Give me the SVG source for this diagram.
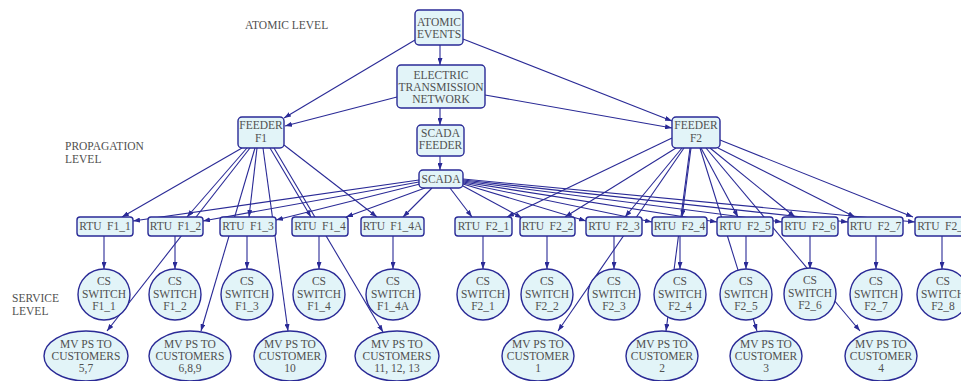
<svg xmlns="http://www.w3.org/2000/svg" width="961" height="381" viewBox="0 0 961 381">
<defs>
<marker id="ah" markerWidth="7" markerHeight="5" refX="7" refY="2.5" orient="auto" markerUnits="userSpaceOnUse">
<path d="M0,0 L7,2.5 L0,5 z" fill="#2a2a96"/>
</marker>
</defs>
<style>
.e line{stroke:#2a2a96;stroke-width:1.1;fill:none;marker-end:url(#ah)}
.n rect,.n ellipse{fill:#e2f4f8;stroke:#2a2a96;stroke-width:1.4}
text{font-family:"Liberation Serif","Times New Roman",serif;font-size:11.5px;fill:#505050;text-anchor:middle}
.lbl{text-anchor:start}
.rtu text{word-spacing:2.5px}
</style>
<rect width="961" height="381" fill="#ffffff"/>
<g id="labels">
<text class="lbl" x="245" y="29">ATOMIC LEVEL</text>
<text class="lbl" x="65" y="150">PROPAGATION</text>
<text class="lbl" x="65" y="163">LEVEL</text>
<text class="lbl" x="12" y="302">SERVICE</text>
<text class="lbl" x="12" y="315">LEVEL</text>
</g>
<g id="edges" class="e">
<line x1="440" y1="45" x2="440" y2="65"/>
<line x1="415" y1="40" x2="284" y2="118"/>
<line x1="397" y1="97" x2="285" y2="126"/>
<line x1="463" y1="39" x2="672" y2="121"/>
<line x1="485" y1="95" x2="672" y2="128"/>
<line x1="440" y1="108" x2="440" y2="125"/>
<line x1="440" y1="156" x2="440" y2="170"/>
<line x1="419" y1="180" x2="133" y2="221"/>
<line x1="419" y1="182" x2="203" y2="221"/>
<line x1="420" y1="184" x2="276" y2="220"/>
<line x1="425" y1="188" x2="346" y2="217"/>
<line x1="432" y1="188" x2="403" y2="217"/>
<line x1="450" y1="188" x2="472" y2="217"/>
<line x1="463" y1="186" x2="522" y2="218"/>
<line x1="463" y1="184" x2="586" y2="221"/>
<line x1="463" y1="183" x2="652" y2="222"/>
<line x1="463" y1="182" x2="717" y2="222"/>
<line x1="463" y1="181" x2="782" y2="222"/>
<line x1="463" y1="180" x2="848" y2="222"/>
<line x1="463" y1="179" x2="915" y2="222"/>
<line x1="242" y1="148" x2="122" y2="217"/>
<line x1="247" y1="148" x2="187" y2="217"/>
<line x1="250" y1="148" x2="107" y2="331"/>
<line x1="257" y1="148" x2="249" y2="217"/>
<line x1="255" y1="148" x2="201" y2="331"/>
<line x1="263" y1="148" x2="288" y2="331"/>
<line x1="270" y1="148" x2="311" y2="217"/>
<line x1="274" y1="148" x2="383" y2="332"/>
<line x1="284" y1="145" x2="377" y2="217"/>
<line x1="672" y1="138" x2="507" y2="217"/>
<line x1="676" y1="148" x2="565" y2="217"/>
<line x1="682" y1="148" x2="625" y2="217"/>
<line x1="684" y1="148" x2="558" y2="331"/>
<line x1="691" y1="148" x2="682" y2="217"/>
<line x1="690" y1="148" x2="666" y2="331"/>
<line x1="701" y1="148" x2="738" y2="217"/>
<line x1="700" y1="148" x2="757" y2="331"/>
<line x1="706" y1="148" x2="860" y2="331"/>
<line x1="710" y1="148" x2="795" y2="217"/>
<line x1="718" y1="148" x2="855" y2="217"/>
<line x1="720" y1="140" x2="913" y2="217"/>
<line x1="104" y1="236" x2="104" y2="269"/>
<line x1="175" y1="236" x2="175" y2="269"/>
<line x1="247" y1="236" x2="247" y2="269"/>
<line x1="319" y1="236" x2="319" y2="269"/>
<line x1="393" y1="236" x2="393" y2="269"/>
<line x1="483" y1="236" x2="483" y2="269"/>
<line x1="547" y1="236" x2="547" y2="269"/>
<line x1="614" y1="236" x2="614" y2="269"/>
<line x1="680" y1="236" x2="680" y2="269"/>
<line x1="746" y1="236" x2="746" y2="269"/>
<line x1="810" y1="236" x2="810" y2="269"/>
<line x1="876" y1="236" x2="876" y2="269"/>
<line x1="942" y1="236" x2="942" y2="269"/>
</g>
<g id="atomic_events" class="n"><rect x="415" y="10" width="48" height="35" rx="4"/><text x="439" y="26">ATOMIC</text><text x="439" y="38">EVENTS</text></g>
<g id="etn" class="n"><rect x="397" y="65" width="88" height="43" rx="4"/><text x="441" y="79">ELECTRIC</text><text x="441" y="91">TRANSMISSION</text><text x="441" y="103">NETWORK</text></g>
<g id="feeder_f1" class="n"><rect x="238" y="117" width="46" height="31" rx="4"/><text x="261" y="129">FEEDER</text><text x="261" y="142">F1</text></g>
<g id="scada_feeder" class="n"><rect x="417" y="125" width="47" height="31" rx="4"/><text x="440.5" y="137">SCADA</text><text x="440.5" y="149">FEEDER</text></g>
<g id="scada" class="n"><rect x="419" y="170" width="44" height="18" rx="4"/><text x="441" y="183">SCADA</text></g>
<g id="feeder_f2" class="n"><rect x="672" y="117" width="48" height="31" rx="4"/><text x="696" y="129">FEEDER</text><text x="696" y="142">F2</text></g>
<g id="rtu_f1_1" class="n rtu"><rect x="77" y="217" width="56" height="19" rx="3"/><text x="105" y="230">RTU F1_1</text></g>
<g id="rtu_f1_2" class="n rtu"><rect x="148" y="217" width="55" height="19" rx="3"/><text x="175.5" y="230">RTU F1_2</text></g>
<g id="rtu_f1_3" class="n rtu"><rect x="220" y="217" width="56" height="19" rx="3"/><text x="248" y="230">RTU F1_3</text></g>
<g id="rtu_f1_4" class="n rtu"><rect x="292" y="217" width="56" height="19" rx="3"/><text x="320" y="230">RTU F1_4</text></g>
<g id="rtu_f1_4a" class="n rtu"><rect x="361" y="217" width="63" height="19" rx="3"/><text x="392.5" y="230">RTU F1_4A</text></g>
<g id="rtu_f2_1" class="n rtu"><rect x="455" y="217" width="57" height="19" rx="3"/><text x="483.5" y="230">RTU F2_1</text></g>
<g id="rtu_f2_2" class="n rtu"><rect x="520" y="217" width="55" height="19" rx="3"/><text x="547.5" y="230">RTU F2_2</text></g>
<g id="rtu_f2_3" class="n rtu"><rect x="586" y="217" width="56" height="19" rx="3"/><text x="614" y="230">RTU F2_3</text></g>
<g id="rtu_f2_4" class="n rtu"><rect x="652" y="217" width="55" height="19" rx="3"/><text x="679.5" y="230">RTU F2_4</text></g>
<g id="rtu_f2_5" class="n rtu"><rect x="717" y="217" width="56" height="19" rx="3"/><text x="745" y="230">RTU F2_5</text></g>
<g id="rtu_f2_6" class="n rtu"><rect x="782" y="217" width="56" height="19" rx="3"/><text x="810" y="230">RTU F2_6</text></g>
<g id="rtu_f2_7" class="n rtu"><rect x="848" y="217" width="55" height="19" rx="3"/><text x="875.5" y="230">RTU F2_7</text></g>
<g id="rtu_f2_8" class="n rtu"><rect x="915" y="217" width="56" height="19" rx="3"/><text x="943" y="230">RTU F2_8</text></g>
<g id="cs_f1_1" class="n"><ellipse cx="104" cy="294.5" rx="26" ry="25.5"/><text x="104" y="285">CS</text><text x="104" y="298">SWITCH</text><text x="104" y="310">F1_1</text></g>
<g id="cs_f1_2" class="n"><ellipse cx="175" cy="294.5" rx="26" ry="25.5"/><text x="175" y="285">CS</text><text x="175" y="298">SWITCH</text><text x="175" y="310">F1_2</text></g>
<g id="cs_f1_3" class="n"><ellipse cx="247" cy="294.5" rx="26" ry="25.5"/><text x="247" y="285">CS</text><text x="247" y="298">SWITCH</text><text x="247" y="310">F1_3</text></g>
<g id="cs_f1_4" class="n"><ellipse cx="319" cy="294.5" rx="26" ry="25.5"/><text x="319" y="285">CS</text><text x="319" y="298">SWITCH</text><text x="319" y="310">F1_4</text></g>
<g id="cs_f1_4a" class="n"><ellipse cx="393" cy="294.5" rx="27" ry="25.5"/><text x="393" y="285">CS</text><text x="393" y="298">SWITCH</text><text x="393" y="310">F1_4A</text></g>
<g id="cs_f2_1" class="n"><ellipse cx="483" cy="294.5" rx="26" ry="25.5"/><text x="483" y="285">CS</text><text x="483" y="298">SWITCH</text><text x="483" y="310">F2_1</text></g>
<g id="cs_f2_2" class="n"><ellipse cx="547" cy="294.5" rx="26" ry="25.5"/><text x="547" y="285">CS</text><text x="547" y="298">SWITCH</text><text x="547" y="310">F2_2</text></g>
<g id="cs_f2_3" class="n"><ellipse cx="614" cy="294.5" rx="26" ry="25.5"/><text x="614" y="285">CS</text><text x="614" y="298">SWITCH</text><text x="614" y="310">F2_3</text></g>
<g id="cs_f2_4" class="n"><ellipse cx="680" cy="294.5" rx="26" ry="25.5"/><text x="680" y="285">CS</text><text x="680" y="298">SWITCH</text><text x="680" y="310">F2_4</text></g>
<g id="cs_f2_5" class="n"><ellipse cx="746" cy="294.5" rx="26" ry="25.5"/><text x="746" y="285">CS</text><text x="746" y="298">SWITCH</text><text x="746" y="310">F2_5</text></g>
<g id="cs_f2_6" class="n"><ellipse cx="810" cy="294" rx="26" ry="26"/><text x="810" y="284">CS</text><text x="810" y="297">SWITCH</text><text x="810" y="309">F2_6</text></g>
<g id="cs_f2_7" class="n"><ellipse cx="876" cy="294.5" rx="26" ry="25.5"/><text x="876" y="285">CS</text><text x="876" y="298">SWITCH</text><text x="876" y="310">F2_7</text></g>
<g id="cs_f2_8" class="n"><ellipse cx="943" cy="294.5" rx="26" ry="25.5"/><text x="943" y="285">CS</text><text x="943" y="298">SWITCH</text><text x="943" y="310">F2_8</text></g>
<g id="mv_5_7" class="n"><ellipse cx="86" cy="356" rx="42" ry="25"/><text x="86" y="348">MV PS TO</text><text x="86" y="360">CUSTOMERS</text><text x="86" y="372">5,7</text></g>
<g id="mv_6_8_9" class="n"><ellipse cx="190" cy="356" rx="41" ry="25"/><text x="190" y="348">MV PS TO</text><text x="190" y="360">CUSTOMERS</text><text x="190" y="372">6,8,9</text></g>
<g id="mv_10" class="n"><ellipse cx="290" cy="356" rx="36" ry="25"/><text x="290" y="348">MV PS TO</text><text x="290" y="360">CUSTOMER</text><text x="290" y="372">10</text></g>
<g id="mv_11_12_13" class="n"><ellipse cx="397" cy="356" rx="42" ry="25"/><text x="397" y="348">MV PS TO</text><text x="397" y="360">CUSTOMERS</text><text x="397" y="372">11, 12, 13</text></g>
<g id="mv_1" class="n"><ellipse cx="538" cy="356" rx="36" ry="25"/><text x="538" y="348">MV PS TO</text><text x="538" y="360">CUSTOMER</text><text x="538" y="372">1</text></g>
<g id="mv_2" class="n"><ellipse cx="662" cy="356" rx="36" ry="25"/><text x="662" y="348">MV PS TO</text><text x="662" y="360">CUSTOMER</text><text x="662" y="372">2</text></g>
<g id="mv_3" class="n"><ellipse cx="766" cy="356" rx="36" ry="25"/><text x="766" y="348">MV PS TO</text><text x="766" y="360">CUSTOMER</text><text x="766" y="372">3</text></g>
<g id="mv_4" class="n"><ellipse cx="881" cy="356" rx="36" ry="25"/><text x="881" y="348">MV PS TO</text><text x="881" y="360">CUSTOMER</text><text x="881" y="372">4</text></g>
</svg>
